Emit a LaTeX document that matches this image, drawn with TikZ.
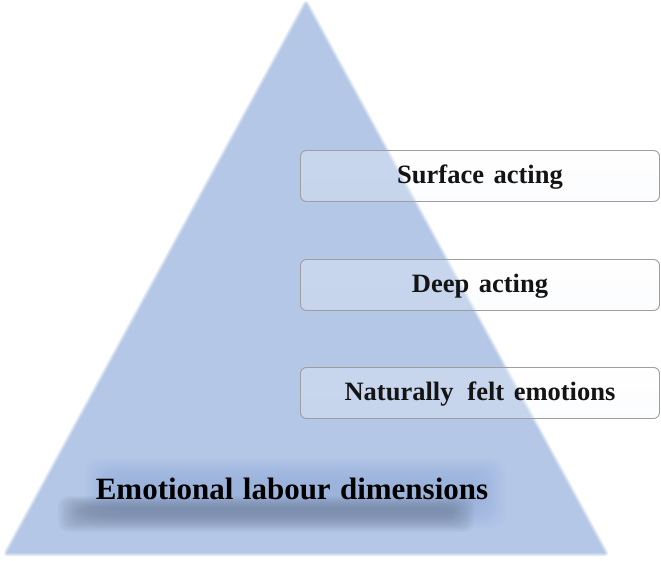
\documentclass[tikz,border=0pt]{standalone}
\usepackage{fontspec}
\setmainfont{Liberation Serif}
\begin{document}
\begin{tikzpicture}[x=1pt,y=-1pt,
  dimbox/.style={draw=black!38, line width=0.9pt, rounded corners=6pt, minimum width=359pt, minimum height=51pt, inner sep=0pt},
  boxtext/.style={font=\bfseries\fontsize{26.5}{30}\selectfont, text=black!92},
  pyr/.style={fill=pyrblue, draw=pyrblue, line join=round}
]
\definecolor{pyrblue}{HTML}{B4C7E7}
\definecolor{glowblue}{HTML}{8EA8DA}
\definecolor{shadowgray}{HTML}{6E7C97}
\useasboundingbox (0,0) rectangle (661,561);
\fill[white] (0,0) rectangle (661,561);
% soft edge of pyramid
\draw[pyrblue, line width=6pt, opacity=0.35, line join=round] (306,4) -- (605,553) -- (7,553) -- cycle;
\draw[pyrblue, line width=3pt, opacity=0.6, line join=round] (306,4) -- (605,553) -- (7,553) -- cycle;
\fill[pyrblue] (306,4) -- (605,553) -- (7,553) -- cycle;
\coordinate (apex) at (306,4);
% glow behind the label
\foreach \i in {0,...,11} {
  \fill[glowblue, opacity=0.06, rounded corners=16pt] (84+2.5*\i,458+2*\i) rectangle (506-2.5*\i,528-2*\i);
}
% shadow beneath the label
\foreach \i in {0,...,11} {
  \fill[shadowgray, opacity=0.07, rounded corners=10pt] (58+2*\i,496+1*\i) rectangle (474-2*\i,532-1.5*\i);
}
\node[font=\bfseries\fontsize{31}{36}\selectfont, text=black, execute at begin node={\spaceskip=0.30em plus 0.1em}] (dims) at (292,489) {Emotional labour dimensions};
% boxes
\foreach \n/\y in {surf/176, deep/285, nat/393} {
  \shade[top color=white, bottom color=white!85!pyrblue, opacity=0.28, rounded corners=6pt] (300.5,\y-25.5) rectangle (659.5,\y+25.5);
}
\node[dimbox] (surf) at (480,176) {};
\node[dimbox] (deep) at (480,285) {};
\node[dimbox] (nat) at (480,393) {};
\begin{scope}[every node/.append style={execute at begin node={\spaceskip=0.36em plus 0.1em}}]
\node[boxtext] (surft) at (480,177) {Surface acting};
\node[boxtext] (deept) at (480,286) {Deep acting};
\node[boxtext] (natt) at (480,394) {Naturally\, felt emotions};
\end{scope}
\end{tikzpicture}
\end{document}
